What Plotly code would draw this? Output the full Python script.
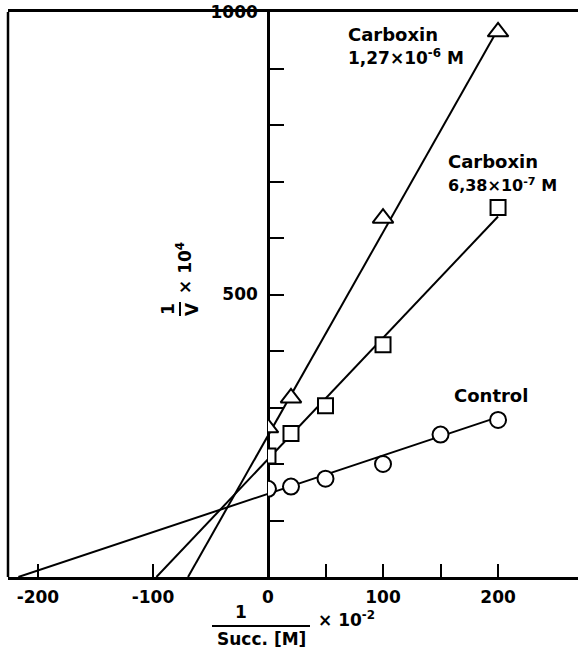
import plotly.graph_objects as go

# ---------------- data ----------------
ctrl_x = [0, 20, 50, 100, 150, 200]
ctrl_y = [156, 160, 174, 200, 252, 278]

c638_x = [0, 20, 50, 100, 200]
c638_y = [214, 254, 303, 411, 654]

c127_x = [0, 20, 100, 200]
c127_y = [264, 317, 635, 965]

# regression lines, from x-intercept to last point
ctrl_fit_x = [-217, 200]
ctrl_fit_y = [0, 283]
c638_fit_x = [-97, 200]
c638_fit_y = [0, 638]
c127_fit_x = [-69.5, 200]
c127_fit_y = [0, 970]

x_tick_vals = [-200, -100, 0, 50, 100, 150, 200]
x_tick_text = ["-200", "-100", "0", "", "100", "", "200"]
y_tick_vals = [100, 200, 300, 400, 500, 600, 700, 800, 900, 1000]
y_tick_text = ["", "", "", "", "500", "", "", "", "", "1000"]

# ---------------- layout geometry ----------------
W, H = 578, 657
L, R, T, B = 8, 0, 12, 80
XMIN, XMAX = -226, 269.5
YMIN, YMAX = 0, 1000
p0 = (0 - XMIN) / (XMAX - XMIN)


def px(x):
    return (x - L) / (W - L - R)


def py(y):
    return (H - B - y) / (H - T - B)


FONT = dict(family="DejaVu Sans", size=18, color="black", weight="bold")
TFONT = dict(family="DejaVu Sans", size=17, color="black", weight="bold")
TICKFONT = dict(family="DejaVu Sans", size=17, color="black", weight="bold")

fig = go.Figure()

line_style = dict(color="black", width=2)
for fx, fy in [(ctrl_fit_x, ctrl_fit_y), (c638_fit_x, c638_fit_y), (c127_fit_x, c127_fit_y)]:
    fig.add_trace(go.Scatter(x=fx, y=fy, mode="lines", line=line_style,
                             xaxis="x", yaxis="y", showlegend=False, hoverinfo="skip"))

mk_line = dict(color="black", width=2)
fig.add_trace(go.Scatter(x=ctrl_x, y=ctrl_y, mode="markers", name="Control",
                         marker=dict(symbol="circle", size=16, color="white", line=mk_line),
                         xaxis="x2", yaxis="y", showlegend=False, cliponaxis=True))
fig.add_trace(go.Scatter(x=c638_x, y=c638_y, mode="markers", name="Carboxin 6,38e-7 M",
                         marker=dict(symbol="square", size=15, color="white", line=mk_line),
                         xaxis="x2", yaxis="y", showlegend=False, cliponaxis=True))
fig.add_trace(go.Scatter(x=c127_x, y=c127_y, mode="markers", name="Carboxin 1,27e-6 M",
                         marker=dict(symbol="triangle-up", size=18, color="white", line=mk_line),
                         xaxis="x2", yaxis="y", showlegend=False, cliponaxis=True))

annotations = [
    dict(x=px(346), y=py(22),
         text="Carboxin<br><span style='font-size:17px'>1,27×10<sup>-6</sup> M</span>",
         xanchor="left", yanchor="top", align="left", showarrow=False, font=FONT,
         xref="paper", yref="paper"),
    dict(x=px(446), y=py(149),
         text="Carboxin<br><span style='font-size:16px'>6,38×10<sup>-7</sup> M</span>",
         xanchor="left", yanchor="top", align="left", showarrow=False, font=FONT,
         xref="paper", yref="paper"),
    dict(x=px(452), y=py(383), text="Control", xanchor="left",
         yanchor="top", align="left", showarrow=False, font=FONT, xref="paper", yref="paper"),
    # y title pieces (rotated)
    dict(x=px(168), y=py(309), text="1", textangle=-90, showarrow=False, font=TFONT,
         xanchor="center", yanchor="middle", xref="paper", yref="paper"),
    dict(x=px(192), y=py(309), text="V", textangle=-90, showarrow=False, font=TFONT,
         xanchor="center", yanchor="middle", xref="paper", yref="paper"),
    dict(x=px(184), y=py(268), text="× 10<sup>4</sup>", textangle=-90, showarrow=False,
         font=TFONT, xanchor="center", yanchor="middle", xref="paper", yref="paper"),
    # x title pieces
    dict(x=px(241), y=py(612), text="1", showarrow=False, font=TFONT,
         xanchor="center", yanchor="middle", xref="paper", yref="paper"),
    dict(x=px(261), y=py(639), text="Succ. [M]", showarrow=False, font=TFONT,
         xanchor="center", yanchor="middle", xref="paper", yref="paper"),
    dict(x=px(316), y=py(619), text="× 10<sup>-2</sup>", showarrow=False, font=TFONT,
         xanchor="left", yanchor="middle", xref="paper", yref="paper"),
]

shapes = [
    dict(type="line", xref="paper", yref="paper", x0=0, x1=0, y0=0, y1=1,
         line=dict(color="black", width=2.5)),
    dict(type="line", xref="paper", yref="paper", x0=px(180), x1=px(180), y0=py(302), y1=py(316),
         line=dict(color="black", width=2)),
    dict(type="line", xref="paper", yref="paper", x0=px(212), x1=px(310), y0=py(626), y1=py(626),
         line=dict(color="black", width=2)),
]

fig.update_layout(
    width=W, height=H,
    margin=dict(l=L, r=R, t=T, b=B, pad=0),
    paper_bgcolor="white", plot_bgcolor="rgba(0,0,0,0)",
    showlegend=False,
    xaxis=dict(domain=[0, 1], range=[XMIN, XMAX], showline=True, linecolor="black",
               linewidth=2.5, mirror=True, ticks="inside", ticklen=13, tickwidth=2,
               tickcolor="black", tickvals=x_tick_vals, ticktext=x_tick_text,
               tickfont=TICKFONT, showgrid=False, zeroline=False, ticklabelstandoff=3),
    xaxis2=dict(domain=[p0, 1], range=[0, XMAX], anchor="y", visible=False,
                showgrid=False, zeroline=False),
    yaxis=dict(domain=[0, 1], range=[YMIN, YMAX], anchor="free", position=p0,
               showline=True, linecolor="black", linewidth=2.5, ticks="inside",
               ticklen=14, tickwidth=2, tickcolor="black", tickvals=y_tick_vals,
               ticktext=y_tick_text, tickfont=TICKFONT, showgrid=False, zeroline=False,
               ticklabelstandoff=6),
    annotations=annotations,
    shapes=shapes,
)

fig.write_html("out.html", config={"displayModeBar": False},
               post_script="document.body.style.margin='0';")
